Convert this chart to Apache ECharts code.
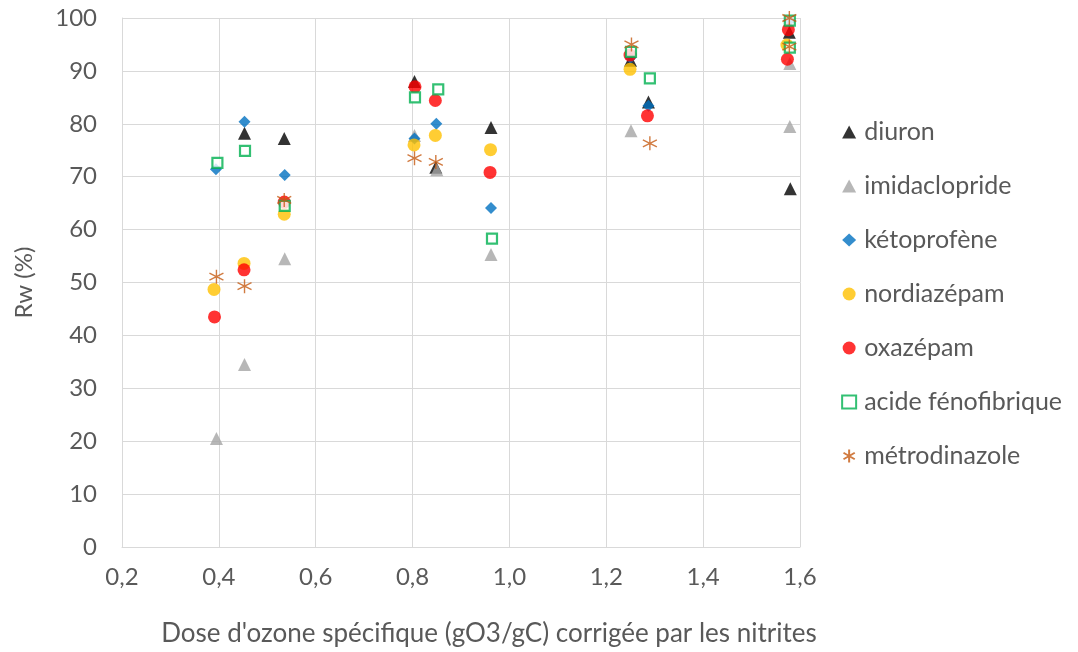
<!DOCTYPE html>
<html>
<head>
<meta charset="utf-8">
<script src="https://cdn.jsdelivr.net/npm/echarts@6/dist/echarts.min.js"></script>
<style>
  html, body { margin: 0; padding: 0; background: #fff; }
  #chart { width: 1078px; height: 652px; }
</style>
</head>
<body>
<div id="chart"></div>
<script>
// valeurs : [dose, Rw]
var diuron = [[0.453, 78.2], [0.535, 77.2], [0.804, 88.0], [0.848, 71.8], [0.962, 79.3],
              [1.250, 92.0], [1.287, 84.1], [1.578, 97.3], [1.580, 67.7]];
var imidaclopride = [[0.395, 20.5], [0.453, 34.5], [0.536, 54.5], [0.804, 77.8], [0.850, 71.3],
                     [0.962, 55.3], [1.251, 78.7], [1.579, 91.4], [1.579, 79.5]];
var ketoprofene = [[0.394, 71.4], [0.453, 80.4], [0.536, 70.3], [0.804, 77.2], [0.849, 80.0],
                   [0.962, 64.1], [1.250, 92.5], [1.287, 83.4], [1.578, 99.5]];
var nordiazepam = [[0.390, 48.7], [0.452, 53.6], [0.535, 62.9], [0.803, 76.0], [0.847, 77.8],
                   [0.961, 75.1], [1.249, 90.3], [1.573, 94.9]];
var oxazepam = [[0.391, 43.5], [0.452, 52.4], [0.535, 65.2], [0.805, 87.0], [0.847, 84.4],
                [0.960, 70.8], [1.249, 93.0], [1.285, 81.5], [1.576, 97.8], [1.574, 92.2]];
var acideFenofibrique = [[0.397, 72.6], [0.454, 74.9], [0.536, 64.5], [0.805, 85.0], [0.853, 86.5],
                         [0.964, 58.3], [1.251, 93.6], [1.290, 88.6], [1.579, 99.5], [1.579, 94.4]];
var metrodinazole = [[0.395, 51.1], [0.453, 49.3], [0.535, 65.6], [0.804, 73.5], [0.848, 72.8],
                     [1.252, 95.0], [1.290, 76.3], [1.578, 100.0], [1.578, 94.6]];

var noms = ['diuron', 'imidaclopride', 'kétoprofène', 'nordiazépam', 'oxazépam',
            'acide fénofibrique', 'métrodinazole'];

var police = 'Lato, "Open Sans", sans-serif';
var gris = '#595959';
var etoile = 'path://M0,-10L0,10M-8.66,-5L8.66,5M-8.66,5L8.66,-5';

var grafico = echarts.init(document.getElementById('chart'));

function serie(nom, dados, symbol, size, style) {
	return {
		name: nom,
		type: 'scatter',
		data: dados,
		symbol: symbol,
		symbolSize: size,
		itemStyle: style,
		emphasis: { disabled: true }
	};
}

var opcoes = {
	animation: false,
	textStyle: { fontFamily: police },
	grid: { left: 122, right: 278, top: 18, bottom: 104, containLabel: false },
	legend: {
		orient: 'vertical',
		left: 836,
		top: 114,
		itemGap: 28,
		itemWidth: 14,
		itemHeight: 13,
		textStyle: { fontSize: 25, lineHeight: 26, color: gris, fontFamily: police, padding: [0, 0, 0, 3] },
		data: noms
	},
	xAxis: {
		type: 'value',
		min: 0.2,
		max: 1.6,
		interval: 0.2,
		name: "Dose d'ozone spécifique (gO3/gC) corrigée par les nitrites",
		nameLocation: 'middle',
		nameGap: 74,
		nameTextStyle: { fontSize: 26, color: gris, fontFamily: police, padding: [0, 0, 0, 56] },
		axisLine: { show: true, lineStyle: { color: '#d9d9d9', width: 1 } },
		axisTick: { show: false },
		splitLine: { show: true, lineStyle: { color: '#d9d9d9', width: 1 } },
		axisLabel: {
			fontSize: 24, color: gris, margin: 18,
			formatter: function (v) { return v.toFixed(1).replace('.', ','); }
		}
	},
	yAxis: {
		type: 'value',
		min: 0,
		max: 100,
		interval: 10,
		name: 'Rw (%)',
		nameLocation: 'middle',
		nameGap: 86,
		nameRotate: 90,
		nameTextStyle: { fontSize: 24, color: gris, fontFamily: police },
		axisLine: { show: true, lineStyle: { color: '#d9d9d9', width: 1 } },
		axisTick: { show: false },
		splitLine: { show: true, lineStyle: { color: '#d9d9d9', width: 1 } },
		axisLabel: { fontSize: 24, color: gris, margin: 25 }
	},
	series: [
		serie(noms[0], diuron, 'triangle', 13, { color: '#000000' }),
		serie(noms[1], imidaclopride, 'triangle', 13, { color: '#a5a5a5' }),
		serie(noms[2], ketoprofene, 'diamond', 12, { color: '#0070c0' }),
		serie(noms[3], nordiazepam, 'circle', 13, { color: '#ffc000' }),
		serie(noms[4], oxazepam, 'circle', 13, { color: '#ff0000' }),
		serie(noms[5], acideFenofibrique, 'rect', 10, { color: '#ffffff', borderColor: '#00b050', borderWidth: 2.2 }),
		serie(noms[6], metrodinazole, etoile, 14, { color: 'none', borderColor: '#c55a11', borderWidth: 1.4 })
	]
};

grafico.setOption(opcoes);
</script>
</body>
</html>
